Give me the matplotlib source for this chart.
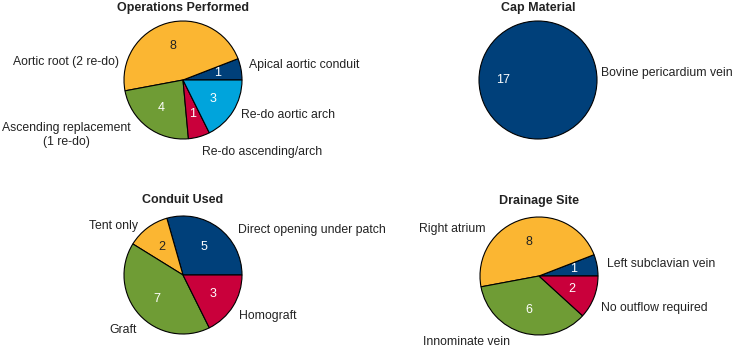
import matplotlib
matplotlib.use("Agg")
import numpy as np
import matplotlib.pyplot as plt

plt.rcParams['font.family'] = ['Liberation Sans', 'DejaVu Sans']

NAVY = '#00407a'
YELLOW = '#fbb632'
GREEN = '#6f9c35'
RED = '#c9003b'
CYAN = '#00a4dc'

# Operations performed
ops_labels = ['Apical aortic conduit', 'Aortic root (2 re-do)',
              'Ascending replacement\n(1 re-do)', 'Re-do ascending/arch',
              'Re-do aortic arch']
ops_values = [1, 8, 4, 1, 3]

# Cap material
cap_labels = ['Bovine pericardium vein']
cap_values = [17]

# Conduit used
conduit_labels = ['Direct opening under patch', 'Tent only', 'Graft', 'Homograft']
conduit_values = [5, 2, 7, 3]

# Drainage site
drain_labels = ['Left subclavian vein', 'Right atrium', 'Innominate vein',
                'No outflow required']
drain_values = [1, 8, 6, 2]

W, H = 735, 350
R = 59  # pie radius in px
fig = plt.figure(figsize=(W / 100, H / 100), dpi=100)


def make_axes(cx, cy, pad=1.15):
    box = R * pad
    ax = fig.add_axes([(cx - box) / W, (H - cy - box) / H, 2 * box / W, 2 * box / H])
    ax.set_axis_off()
    return ax, pad


def draw_pie(cx, cy, title, title_y, values, colors, pct_colors,
             labels, label_pos, pctdistance=0.6):
    ax, pad = make_axes(cx, cy)
    ax.pie(values, colors=colors, startangle=0, counterclock=True, radius=1,
           wedgeprops=dict(edgecolor='black', linewidth=0.8))
    # value labels at the wedge middles
    total = sum(values)
    start = 0.0
    for v, c in zip(values, pct_colors):
        mid = np.deg2rad(start + 180.0 * v / total)
        ax.text(pctdistance * np.cos(mid), pctdistance * np.sin(mid), str(v),
                ha='center', va='center', fontsize=9, color=c)
        start += 360.0 * v / total
    for lab, (x, y, ha) in zip(labels, label_pos):
        ax.text(x, y, lab, ha=ha, va='center', fontsize=8.8, color='#222222',
                multialignment='center')
    ax.text(0, title_y, title, ha='center', va='center', fontsize=9,
            fontweight='bold', color='#222222')
    ax.set_xlim(-pad, pad)
    ax.set_ylim(-pad, pad)
    return ax


draw_pie(183, 80, 'Operations Performed', 1.22, ops_values,
         [NAVY, YELLOW, GREEN, RED, CYAN],
         ['white', '#222222', 'white', 'white', 'white'],
         ops_labels,
         [(1.12, 0.25, 'left'), (-1.08, 0.30, 'right'), (-1.97, -0.93, 'center'),
          (0.32, -1.22, 'left'), (0.98, -0.60, 'left')])

draw_pie(538, 80, 'Cap Material', 1.22, cap_values, [NAVY], ['white'],
         cap_labels, [(1.07, 0.12, 'left')])

draw_pie(183, 275, 'Conduit Used', 1.27, conduit_values,
         [NAVY, YELLOW, GREEN, RED],
         ['white', '#222222', 'white', 'white'],
         conduit_labels,
         [(0.93, 0.77, 'left'), (-0.77, 0.83, 'right'), (-1.02, -0.93, 'center'),
          (0.95, -0.70, 'left')])

draw_pie(539, 276, 'Drainage Site', 1.27, drain_values,
         [NAVY, YELLOW, GREEN, RED],
         ['white', '#222222', 'white', 'white'],
         drain_labels,
         [(1.15, 0.20, 'left'), (-0.90, 0.80, 'right'), (-1.23, -1.12, 'center'),
          (1.05, -0.55, 'left')])

fig.savefig('out.png', dpi=100)
